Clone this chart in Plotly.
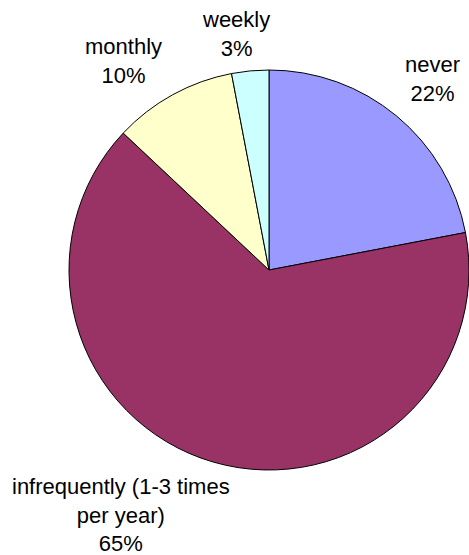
import plotly.graph_objects as go

# survey answers, clockwise from 12 o'clock
labels = ["never", "infrequently (1-3 times<br>per year)", "monthly", "weekly"]
values = [22, 65, 10, 3]
colors = ["#9999FF", "#993366", "#FFFFCC", "#CCFFFF"]

W, H = 469, 555

# where each label sits (pixel centre of the text block)
label_pos = [(432, 79), (121, 515), (123, 61), (236, 34)]

fig = go.Figure()
fig.add_trace(go.Pie(
    labels=labels,
    values=values,
    sort=False,
    direction="clockwise",
    rotation=0,
    textinfo="none",
    hoverinfo="label+percent",
    marker=dict(colors=colors, line=dict(color="black", width=1)),
    domain=dict(x=[69 / W, 1], y=[1 - 470 / H, 1 - 70 / H]),
    showlegend=False,
))

total = sum(values)
for lab, val, (px, py) in zip(labels, values, label_pos):
    fig.add_annotation(
        x=px / W, y=1 - py / H, xref="paper", yref="paper",
        text=f"{lab}<br>{round(100 * val / total)}%",
        showarrow=False, xanchor="center", yanchor="middle",
        font=dict(family="Liberation Sans, Arial", size=22, color="black"),
    )

fig.update_layout(
    width=W, height=H,
    margin=dict(l=0, r=0, t=0, b=0),
    paper_bgcolor="white",
    plot_bgcolor="white",
)

# drop the page margin so the figure fills the window exactly
fig.write_html("out.html", config=dict(displayModeBar=False),
               post_script="document.body.style.margin='0';")
